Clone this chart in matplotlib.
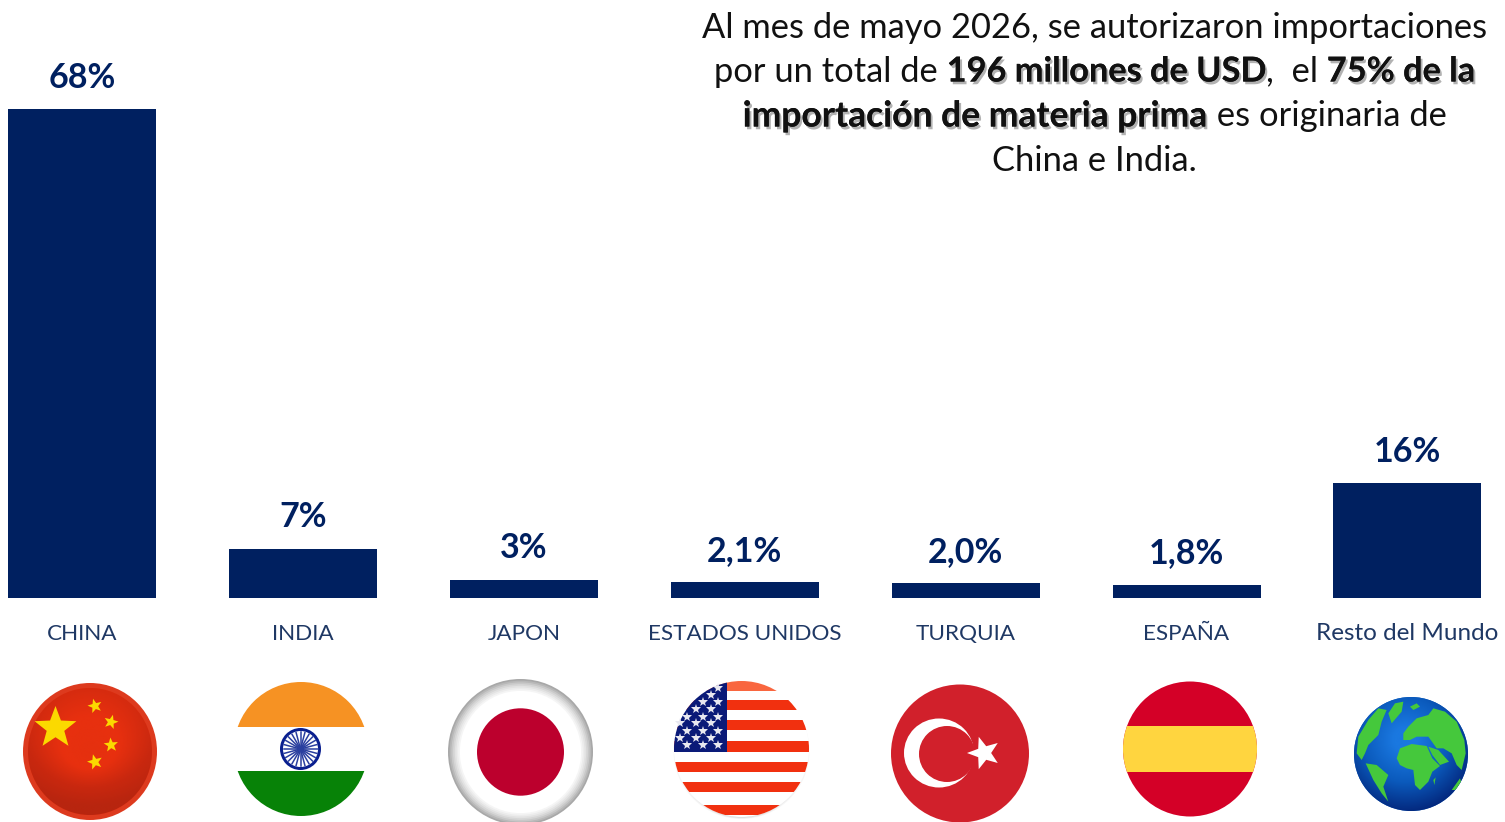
import numpy as np
import matplotlib
matplotlib.use('Agg')
import matplotlib.pyplot as plt
import matplotlib.patheffects as pe
from matplotlib.colors import LinearSegmentedColormap
from matplotlib.patches import Ellipse, Rectangle, Polygon

plt.rcParams['font.family'] = ['Lato', 'DejaVu Sans']

categories = ['CHINA', 'INDIA', 'JAPON', 'ESTADOS UNIDOS', 'TURQUIA', 'ESPAÑA', 'Resto del Mundo']
values = [68, 6.8, 2.5, 2.1, 2.0, 1.8, 15.9]
value_labels = ['68%', '7%', '3%', '2,1%', '2,0%', '1,8%', '16%']

headline = [
    [('Al mes de mayo 2026, se autorizaron importaciones', False)],
    [('por un total de ', False), ('196 millones de USD', True), (',  el ', False), ('75% de la', True)],
    [('importación de materia prima', True), (' es originaria de', False)],
    [('China e India.', False)],
]

NAVY = '#002060'
W, H = 1505, 822
BASE = 597.5
PX_PER_PCT = 7.184
STEP = 220.85
FS_REG = 24.8
FS_BOLD = 25.5
FS_BOLD_NUM = 24.7

fig = plt.figure(figsize=(W / 100, H / 100), dpi=100)
ax = fig.add_axes([0, 1 - BASE / H, 1, BASE / H])
ax.bar(range(len(values)), values, width=148 / STEP, color=NAVY)
ax.set_xlim(-82.3 / STEP, (W - 82.3) / STEP)
ax.set_ylim(0, BASE / PX_PER_PCT)
for s in ax.spines.values():
    s.set_visible(False)
ax.set_yticks([])
ax.set_xticks(range(len(categories)))
ax.set_xticklabels(categories, fontsize=16.2, color='#1f3864', va='baseline')
ax.get_xticklabels()[-1].set_fontsize(17.5)
ax.tick_params(axis='x', length=0, pad=30.5)
ax.bar_label(ax.containers[0], labels=value_labels, padding=11, fontsize=24.5,
             fontweight='bold', color=NAVY)

# overlay in pixel coordinates for the headline and the flags
ov = fig.add_axes([0, 0, 1, 1], facecolor='none')
ov.set_xlim(0, W)
ov.set_ylim(H, 0)
ov.axis('off')


def run_style(s, bold):
    if not bold:
        return {'fontsize': FS_REG, 'fontweight': 'normal'}
    return {'fontsize': FS_BOLD_NUM if s[0].isdigit() else FS_BOLD, 'fontweight': 'bold'}


def text_width(s, bold):
    r = fig.canvas.get_renderer()
    t = ov.text(0, 0, s + 'x', **run_style(s, bold))
    t2 = ov.text(0, 0, 'x', **run_style(s, bold))
    w = t.get_window_extent(r).width - t2.get_window_extent(r).width
    t.remove()
    t2.remove()
    return w


line_y = [24.5, 68.5, 113.5, 158]
for runs, y in zip(headline, line_y):
    widths = [text_width(s, b) for s, b in runs]
    x = 1094.5 - sum(widths) / 2
    for (s, b), w in zip(runs, widths):
        t = ov.text(x, y, s, color='#111111', ha='left', va='center_baseline', **run_style(s, b))
        if b:
            t.set_path_effects([pe.withSimplePatchShadow(offset=(1.5, -2), shadow_rgbFace='black', alpha=0.3),
                                pe.Normal()])
        x += w


def oval(cx, cy, rx, ry, **kw):
    e = Ellipse((cx, cy), 2 * rx, 2 * ry, linewidth=0, **kw)
    ov.add_patch(e)
    return e


def clipped(patch, clip):
    ov.add_patch(patch)
    patch.set_clip_path(clip)
    return patch


def star(cx, cy, r, color, rot=0):
    a = np.radians(np.arange(10) * 36 - 90 + rot)
    rad = np.where(np.arange(10) % 2 == 0, r, r * 0.42)
    p = Polygon(np.c_[cx + rad * np.cos(a), cy + rad * np.sin(a)], closed=True, color=color, linewidth=0, zorder=4)
    ov.add_patch(p)
    return p


def bands(clip, x0, x1, rows):
    for y0, y1, c in rows:
        clipped(Rectangle((x0, y0), x1 - x0, y1 - y0, color=c, linewidth=0), clip)


def gradient(clip, box, field, colors, vmin, vmax):
    cmap = LinearSegmentedColormap.from_list('grad', colors)
    img = ov.imshow(field, extent=box, cmap=cmap, aspect='auto', vmin=vmin, vmax=vmax, zorder=2)
    img.set_clip_path(clip)
    ov.set_xlim(0, W)
    ov.set_ylim(H, 0)


gy, gx = np.mgrid[-1:1:200j, -1:1:200j]

# China
oval(90, 751.5, 67, 68.5, color='#dd3a1e', zorder=1)
clip = oval(90, 751.5, 62, 63.5, color='#e6300f', zorder=1)
gradient(clip, (28, 152, 815, 688), np.hypot(gx * 0.8, gy - 0.05) + 0.45 * gy,
         ['#d84a32', '#e4300f', '#e8300f', '#c9280f', '#b8250f'], -0.5, 1.2)
star(55.5, 728, 22, '#fbd900')
star(95, 706, 7.5, '#fbd900', rot=-15)
star(111, 722, 7.5, '#fbd900', rot=15)
star(111, 745, 7.5, '#fbd900', rot=-5)
star(95, 762, 8, '#fbd900', rot=-15)

# India
clip = oval(301, 749, 67, 67, color='white')
bands(clip, 230, 372, [(680, 727, '#f69223'), (771, 820, '#078207')])
oval(300.5, 749, 20.5, 21, color='#0a1f8f')
oval(300.5, 749, 17.5, 18, color='white')
for a in np.radians(np.arange(0, 360, 15)):
    ov.plot([300.5, 300.5 + 17 * np.cos(a)], [749, 749 + 17 * np.sin(a)], color='#2a3f9f', lw=1.1)
oval(300.5, 749, 3.5, 3.5, color='#8f9fd0')

# Japan
for k, c in zip(range(8), ['#a8a8a8', '#b8b8b8', '#c8c8c8', '#d6d6d6', '#e2e2e2', '#ececec', '#f5f5f5', '#ffffff']):
    oval(520.5, 752, 72.5 - k * 1.7, 73 - k * 1.7, color=c)
oval(520.5, 752, 43.5, 43.7, color='#bc002d')

# United States
for k in range(6):
    oval(741.5, 751 + k, 68 - k * 2, 68 - k * 1.5, color='black', alpha=0.035)
clip = oval(741.5, 749, 67.5, 68, color='white')
red = '#f1300f'
rows = [(681, 691), (700, 710), (720, 730), (741, 752), (762, 772), (782, 792), (805, 815)]
bands(clip, 670, 815, [(a, b, '#f9663f' if a == 681 else red) for a, b in rows])
bands(clip, 670, 727, [(680, 752, '#0a1a78')])
us_stars = [(40, [160]), (60, [138]), (82, [113, 160]), (103, [92, 138]), (125, [67, 113, 160]),
            (145, [45, 92, 138]), (168, [67, 113, 160]), (188, [45, 92, 138]), (210, [67, 113, 160])]
for zy, zxs in us_stars:
    for zx in zxs:
        ov.plot(665 + zx / 3, 675 + zy / 3, marker='*', ms=7, color='#e8e8f0', mew=0)

# Turkey
oval(960, 753.5, 69, 69, color='#d1202b')
oval(939, 753, 35, 34.5, color='white')
oval(947, 754, 28, 28, color='#d1202b')
star(984, 753, 17, 'white', rot=-90)

# Spain
clip = oval(1190, 749, 67, 67.5, color='#d40027')
bands(clip, 1120, 1260, [(726, 772, '#ffd53f')])

# Globe
clip = oval(1411, 754, 57, 57, color='#0a5fc0', zorder=1)
gradient(clip, (1354, 1468, 811, 697), np.hypot(gx + 0.1, gy + 0.25),
         ['#1a78e0', '#0b5abc', '#03257a'], 0.2, 1.3)
land = [
    [(155, 205), (165, 175), (200, 162), (245, 168), (262, 205), (285, 228), (262, 245), (250, 275), (225, 300), (210, 285), (205, 240), (185, 235), (165, 225)],
    [(175, 130), (190, 110), (215, 85), (250, 75), (265, 55), (300, 65), (335, 95), (358, 150), (362, 190), (350, 240), (335, 225), (320, 190), (295, 175), (275, 175), (250, 140), (215, 140), (195, 150), (175, 150)],
    [(250, 170), (280, 180), (312, 215), (285, 225), (262, 195)],
    [(130, 70), (150, 40), (175, 35), (170, 65), (140, 100)],
    [(35, 190), (40, 140), (70, 90), (100, 55), (125, 60), (110, 95), (100, 135), (70, 165), (60, 190), (50, 210)],
    [(62, 220), (95, 225), (130, 255), (115, 290), (130, 335), (110, 310), (85, 270)],
    [(265, 270), (272, 262), (268, 285)],
    [(320, 300), (345, 265), (350, 280), (335, 300)],
    [(195, 50), (215, 40), (225, 50), (205, 60)],
]
for poly in land:
    pts = [(1345 + x / 3, 690 + y / 3) for x, y in poly]
    clipped(Polygon(pts, closed=True, color='#45c83c', linewidth=0, zorder=3), clip)

fig.savefig('out.png', dpi=100)
